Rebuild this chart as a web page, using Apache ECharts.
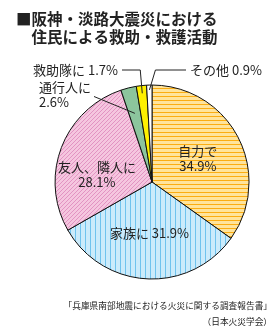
<!DOCTYPE html>
<html>
<head>
<meta charset="utf-8">
<script src="https://cdn.jsdelivr.net/npm/echarts@6/dist/echarts.min.js"></script>
<style>
html, body { margin: 0; padding: 0; background: #fff; }
#main { width: 280px; height: 334px; }
</style>
</head>
<body>
<div id="main"></div>
<script>
// data
var titleLines = ['■阪神・淡路大震災における', '　住民による救助・救護活動'];
var sourceLines = ['「兵庫県南部地震における火災に関する調査報告書」', '（日本火災学会）'];
var categories = ['自力で', '家族に', '友人、隣人に', '通行人に', '救助隊に', 'その他'];
var shares = [34.9, 31.9, 28.1, 2.6, 1.7, 0.9];
var labelSeps = ['\n', ' ', '\n', '\n', ' ', ' '];

var FONT = "'Noto Sans CJK JP', 'Noto Sans', sans-serif";
var INK = '#222';

// striped fills drawn on tiny canvases
function stripes(bg, fg, kind, n) {
	var c = document.createElement('canvas');
	c.width = n; c.height = n;
	var g = c.getContext('2d');
	g.fillStyle = bg;
	g.fillRect(0, 0, n, n);
	g.fillStyle = fg;
	if (kind == 'h') g.fillRect(0, 0, n, 1);
	if (kind == 'v') g.fillRect(0, 0, 1, n);
	if (kind == 'd') {
		for (var i = 0; i < n; i++) g.fillRect(i, n - 1 - i, 1, 1);
	}
	return { image: c, repeat: 'repeat' };
}

var fills = [
	stripes('#ffe49c', '#fbad12', 'h', 4),
	stripes('#cbebfb', '#6fc3ee', 'v', 5),
	stripes('#f5c6df', '#e293c2', 'd', 4),
	'#8cc59d',
	'#fff000',
	'#ffffff'
];

// where the labels sit (inside ones nudged, outside ones placed)
var labelSpots = {
	2: { dx: -7, dy: 11 },
	3: { x: 39, y: 80, align: 'left', verticalAlign: 'top' },
	4: { x: 118, y: 70, align: 'right', verticalAlign: 'middle' },
	5: { x: 190, y: 70, align: 'left', verticalAlign: 'middle' }
};
// how deep into the slice the leader line reaches (share of radius)
var leaderDepth = { 3: 0.73, 4: 0.92, 5: 0.95 };

var chart = echarts.init(document.getElementById('main'));

var pieData = categories.map(function (name, i) {
	var item = {
		name: name,
		value: shares[i],
		itemStyle: { color: fills[i] }
	};
	if (i >= 3) {
		item.label = { position: 'outside' };
		item.labelLine = { show: true, length: 8, length2: 8 };
	} else {
		item.labelLine = { show: false };
	}
	return item;
});

function placeLabel(p) {
	var spot = labelSpots[p.dataIndex];
	if (!spot) return {};
	if (spot.dx != null) return { dx: spot.dx, dy: spot.dy };

	var lay = chart.getModel().getSeriesByIndex(0).getData().getItemLayout(p.dataIndex);
	var mid = (lay.startAngle + lay.endAngle) / 2;
	var k = leaderDepth[p.dataIndex];
	var ax = lay.cx + lay.r * k * Math.cos(mid);
	var ay = lay.cy + lay.r * k * Math.sin(mid);
	var w = p.labelRect.width, h = p.labelRect.height;
	var pts;
	if (p.dataIndex == 3) {
		var ex = spot.x + w + 3, ey = spot.y + h * 0.55;
		pts = [[ax, ay], [(ax + ex) / 2, (ay + ey) / 2], [ex, ey]];
	} else if (p.dataIndex == 4) {
		pts = [[ax, ay], [ax - 2, spot.y], [spot.x + 4, spot.y]];
	} else {
		pts = [[ax, ay], [ax + 6, spot.y], [spot.x - 4, spot.y]];
	}
	return {
		x: spot.x, y: spot.y,
		align: spot.align, verticalAlign: spot.verticalAlign,
		labelLinePoints: pts
	};
}

var sourceText = sourceLines.map(function (line, i) {
	return {
		type: 'text',
		right: 8, top: 301 + i * 16,
		style: { text: line, font: '8.7px ' + FONT, fill: INK }
	};
});

var option = {
	animation: false,
	backgroundColor: '#fff',
	title: {
		text: titleLines.join('\n'),
		left: 11, top: 5,
		textStyle: { fontFamily: FONT, fontSize: 15.5, fontWeight: 'bold', color: INK, lineHeight: 18 }
	},
	graphic: sourceText,
	series: [{
		type: 'pie',
		center: ['54.3%', '54.5%'],
		radius: 97,
		startAngle: 90,
		clockwise: true,
		avoidLabelOverlap: false,
		silent: true,
		data: pieData,
		itemStyle: { borderColor: '#111', borderWidth: 1 },
		label: {
			position: 'inside',
			fontFamily: FONT,
			fontSize: 13,
			lineHeight: 15,
			color: INK,
			formatter: function (p) {
				return p.name + labelSeps[p.dataIndex] + p.value + '%';
			}
		},
		labelLine: { lineStyle: { color: INK, width: 1 } },
		labelLayout: placeLabel
	}]
};

chart.setOption(option);

// leader lines reach into the slices, so lift them above the sectors
var zr = chart.getZr();
zr.storage.getDisplayList(true).forEach(function (el) {
	if (el.type == 'polyline') {
		el.z2 = 100;
		el.markRedraw();
	}
});
zr.refresh();
zr.flush();
</script>
</body>
</html>
